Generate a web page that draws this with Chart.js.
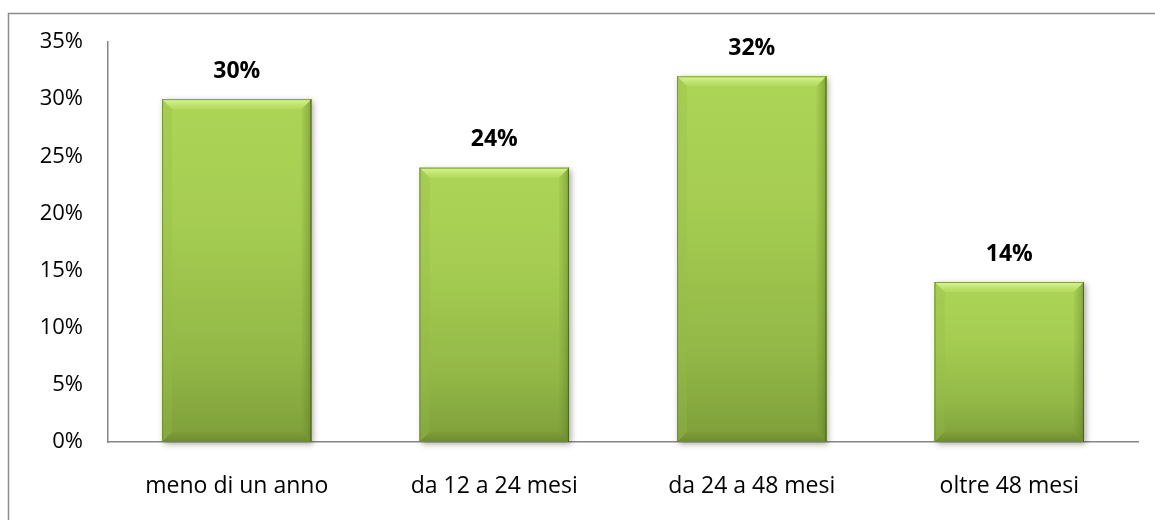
<!DOCTYPE html>
<html>
<head>
<meta charset="utf-8">
<script src="https://cdn.jsdelivr.net/npm/chart.js@4/dist/chart.umd.min.js"></script>
<style>
  html, body { margin: 0; padding: 0; background: #fff; }
  #wrap { width: 1155px; height: 520px; }
</style>
</head>
<body>
<div id="wrap"><canvas id="myChart" width="1155" height="520"></canvas></div>
<script>
// Durata (quota per fascia)
const categories = ['meno di un anno', 'da 12 a 24 mesi', 'da 24 a 48 mesi', 'oltre 48 mesi'];
const shares = [30, 24, 32, 14];
const yTicks = [0, 5, 10, 15, 20, 25, 30, 35];

const FONT = '"Open Sans", "DejaVu Sans", sans-serif';

// outer frame (only left and top edges fall inside the canvas)
const framePlugin = {
    id: 'frame',
    beforeDraw(chart) {
        const ctx = chart.ctx;
        ctx.save();
        ctx.strokeStyle = '#8c8c8c';
        ctx.lineWidth = 1.5;
        ctx.strokeRect(8.5, 13.5, chart.width + 20, chart.height + 20);
        ctx.restore();
    }
};

// soft shadow to the right and below each bar
const shadowPlugin = {
    id: 'barShadow',
    beforeDatasetsDraw(chart) {
        const ctx = chart.ctx;
        const meta = chart.getDatasetMeta(0);
        ctx.save();
        meta.data.forEach(bar => {
            const l = bar.x - bar.width / 2;
            ctx.shadowColor = 'rgba(0,0,0,0.35)';
            ctx.shadowBlur = 6;
            ctx.shadowOffsetX = 2;
            ctx.shadowOffsetY = 2;
            ctx.fillStyle = '#7c9a3a';
            ctx.fillRect(l, bar.y, bar.width, bar.base - bar.y);
        });
        ctx.restore();
    }
};

// per-bar gradient with bevelled edges, painted over each bar element
const bevelPlugin = {
    id: 'bevel',
    afterDatasetsDraw(chart) {
        const ctx = chart.ctx;
        const meta = chart.getDatasetMeta(0);
        meta.data.forEach(bar => {
            const l = bar.x - bar.width / 2, r = bar.x + bar.width / 2;
            const t = bar.y, b = bar.base;
            const h = b - t;
            const d = 10;
            ctx.save();
            const g = ctx.createLinearGradient(0, t, 0, b);
            g.addColorStop(0, '#acd556');
            g.addColorStop(0.35, '#a6cd52');
            g.addColorStop(0.75, '#93b847');
            g.addColorStop(1, '#7e9e3a');
            ctx.fillStyle = g;
            ctx.fillRect(l, t, bar.width, h);

            // top bevel
            const gt = ctx.createLinearGradient(0, t, 0, t + d);
            gt.addColorStop(0, 'rgba(225,250,150,0.9)');
            gt.addColorStop(1, 'rgba(200,235,120,0.25)');
            ctx.beginPath();
            ctx.moveTo(l, t); ctx.lineTo(r, t); ctx.lineTo(r - d, t + d); ctx.lineTo(l + d, t + d); ctx.closePath();
            ctx.fillStyle = gt;
            ctx.fill();
            // left bevel
            ctx.beginPath();
            ctx.moveTo(l, t); ctx.lineTo(l + d, t + d); ctx.lineTo(l + d, b - d); ctx.lineTo(l, b); ctx.closePath();
            ctx.fillStyle = 'rgba(150,190,70,0.3)';
            ctx.fill();
            // right bevel
            const gr = ctx.createLinearGradient(r - d, 0, r, 0);
            gr.addColorStop(0, 'rgba(110,145,40,0.1)');
            gr.addColorStop(1, 'rgba(80,110,25,0.45)');
            ctx.beginPath();
            ctx.moveTo(r, t); ctx.lineTo(r - d, t + d); ctx.lineTo(r - d, b - d); ctx.lineTo(r, b); ctx.closePath();
            ctx.fillStyle = gr;
            ctx.fill();
            // bottom bevel, fading downwards
            const gb = ctx.createLinearGradient(0, b - d, 0, b);
            gb.addColorStop(0, 'rgba(70,95,20,0.05)');
            gb.addColorStop(1, 'rgba(70,95,20,0.3)');
            ctx.beginPath();
            ctx.moveTo(l, b); ctx.lineTo(l + d, b - d); ctx.lineTo(r - d, b - d); ctx.lineTo(r, b); ctx.closePath();
            ctx.fillStyle = gb;
            ctx.fill();
            // edges
            ctx.lineWidth = 1;
            ctx.strokeStyle = 'rgba(75,100,25,0.95)';
            ctx.beginPath();
            ctx.moveTo(r - 0.5, t); ctx.lineTo(r - 0.5, b);
            ctx.stroke();
            ctx.strokeStyle = 'rgba(105,140,40,0.8)';
            ctx.beginPath();
            ctx.moveTo(l + 0.5, t); ctx.lineTo(l + 0.5, b);
            ctx.moveTo(l, t + 0.5); ctx.lineTo(r, t + 0.5);
            ctx.stroke();
            ctx.restore();
        });
    }
};

// bold value labels above bars
const labelPlugin = {
    id: 'valueLabels',
    afterDatasetsDraw(chart) {
        const ctx = chart.ctx;
        const meta = chart.getDatasetMeta(0);
        ctx.save();
        ctx.font = 'bold 23px ' + FONT;
        ctx.fillStyle = '#000';
        ctx.textAlign = 'center';
        ctx.textBaseline = 'middle';
        meta.data.forEach((bar, i) => {
            ctx.fillText(shares[i] + '%', bar.x, bar.y - 28);
        });
        ctx.restore();
    }
};

const ctx = document.getElementById('myChart').getContext('2d');
const myChart = new Chart(ctx, {
    type: 'bar',
    data: {
        labels: categories,
        datasets: [{
            data: shares,
            backgroundColor: '#9bc24a',
            borderWidth: 0,
            barPercentage: 0.58,
            categoryPercentage: 1
        }]
    },
    options: {
        responsive: false,
        animation: false,
        layout: { padding: { left: 0, top: 42, right: 17, bottom: 0 } },
        plugins: { legend: { display: false }, tooltip: { enabled: false } },
        scales: {
            x: {
                grid: { display: false, drawTicks: false },
                border: { color: '#868686', width: 1.5 },
                ticks: { color: '#000', padding: 31, font: { family: FONT, size: 23 } },
                afterFit(scale) { scale.height = 78; }
            },
            y: {
                min: 0,
                max: 35,
                afterBuildTicks(scale) { scale.ticks = yTicks.map(v => ({ value: v })); },
                grid: { display: false, drawTicks: false },
                border: { color: '#868686', width: 1.5 },
                ticks: {
                    color: '#000',
                    padding: 25,
                    font: { family: FONT, size: 22 },
                    callback: v => v + '%'
                },
                afterFit(scale) { scale.width = 108; }
            }
        }
    },
    plugins: [framePlugin, shadowPlugin, bevelPlugin, labelPlugin]
});
</script>
</body>
</html>
